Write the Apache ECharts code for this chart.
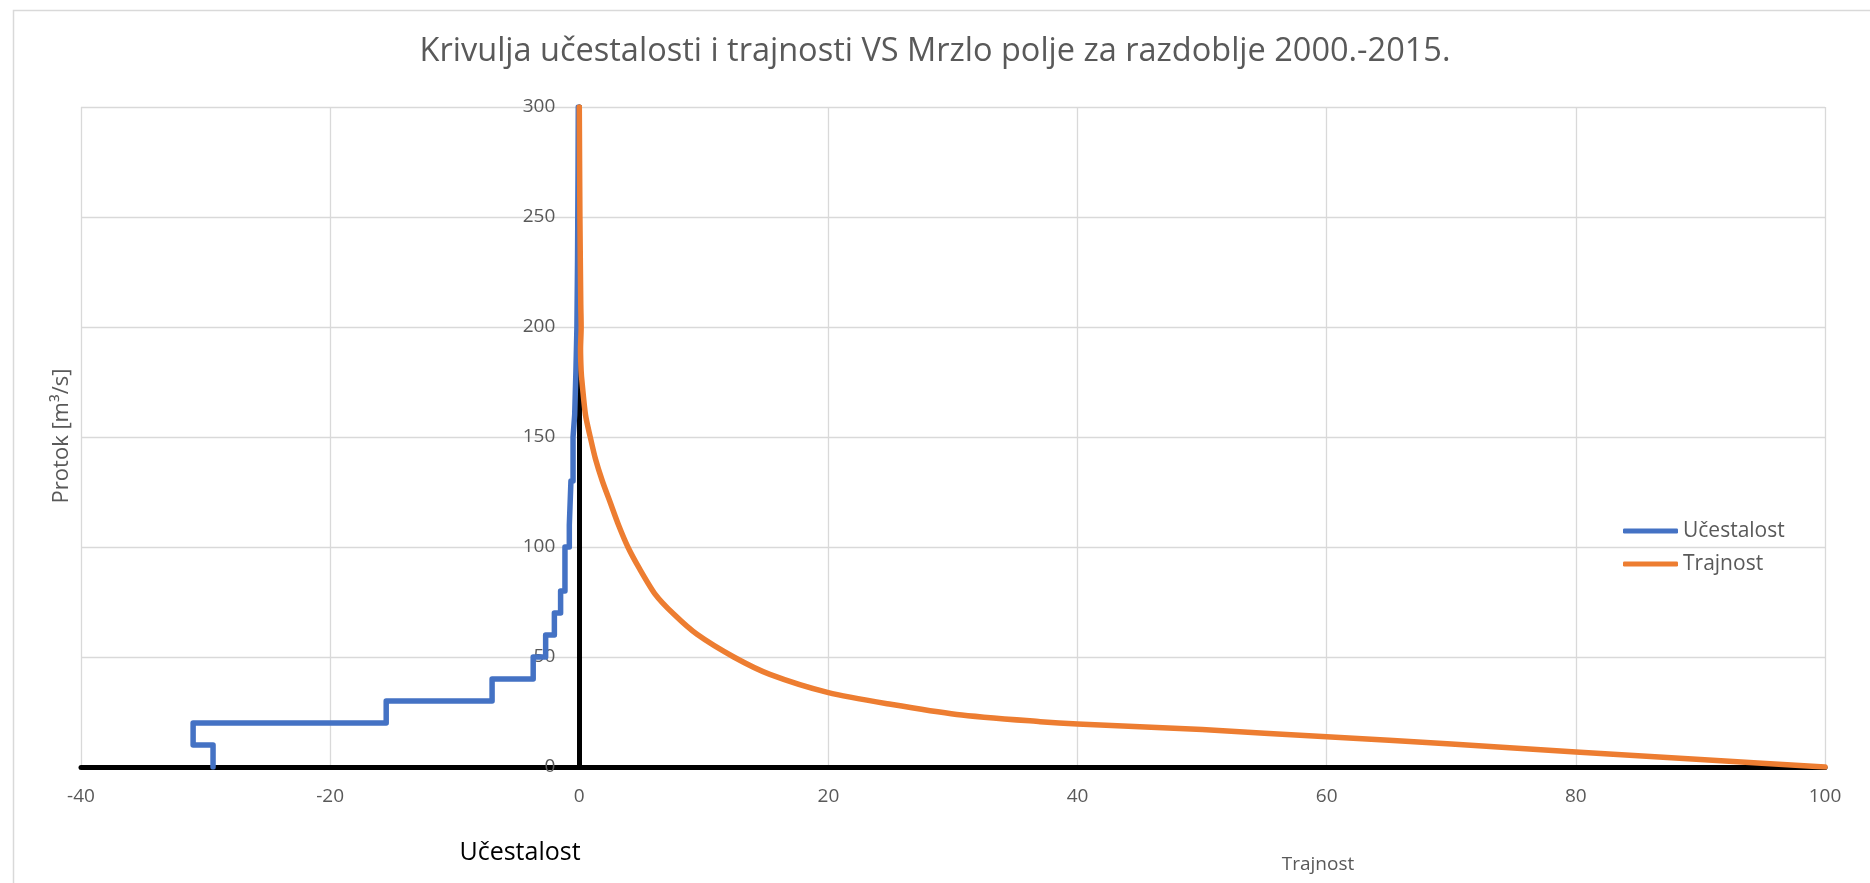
<!DOCTYPE html>
<html>
<head>
<meta charset="utf-8">
<script src="https://cdn.jsdelivr.net/npm/echarts@6/dist/echarts.min.js"></script>
<style>
html,body{margin:0;padding:0;background:#fff;}
#chart{width:1870px;height:883px;}
</style>
</head>
<body>
<div id="chart"></div>
<script>
// ---- DATA ----
const titleText = 'Krivulja učestalosti i trajnosti VS Mrzlo polje za razdoblje 2000.-2015.';
const seriesNames = ['Učestalost', 'Trajnost'];
const yAxisTitle = 'Protok [m³/s]';
const xTicks = { min: -40, max: 100, interval: 20 };
const yTicks = { min: 0, max: 300, interval: 50 };

// Učestalost (frequency) – step curve: x = frequency (negative side), y = discharge class lower bound
const ucestalostQ = [0, 10, 20, 30, 40, 50, 60, 70, 80, 100, 110, 130, 150, 160, 180, 200, 230, 270, 300];
const ucestalostF = [-29.4, -31.0, -15.5, -7.0, -3.7, -2.7, -2.0, -1.5, -1.15, -0.8, -0.67, -0.5, -0.37, -0.27, -0.19, -0.14, -0.1, -0.08, -0.08];

// Trajnost (duration) – x = % of time, y = discharge
const trajnostP = [0, 0.05, 0.12, 0.15, 0.1, 0.15, 0.22, 0.5, 0.88, 1.3, 1.85, 2.5, 3.15, 3.9, 4.8, 6.1, 7.6, 9.45, 12.4, 15.3, 20, 25, 30.3, 37, 40, 50, 60, 70, 80, 90, 100];
const trajnostQ = [300, 250, 210, 200, 190, 180, 175, 160, 150, 140, 130, 120, 110, 100, 90.5, 78.5, 69.4, 60.3, 50, 42.1, 33.8, 28.5, 23.9, 20.6, 19.5, 17, 13.7, 10.5, 6.8, 3.4, 0];

// ---- CHART ----
const FONT = 'Open Sans';
const GRAY = '#595959';
const chart = echarts.init(document.getElementById('chart'), null, { renderer: 'canvas' });

const ucData = ucestalostF.map((f, i) => [f, ucestalostQ[i]]);
const trData = trajnostP.map((p, i) => [p, trajnostQ[i]]);

const gridLeft = 81, gridRight = 45;
const plotW = 1870 - gridLeft - gridRight;
const zeroOffset = -plotW * (0 - xTicks.min) / (xTicks.max - xTicks.min);

chart.setOption({
  backgroundColor: '#ffffff',
  animation: false,
  textStyle: { fontFamily: FONT },
  title: [
    { text: titleText, left: 'center', top: 30,
      textStyle: { fontFamily: FONT, fontSize: 32.5, fontWeight: 'normal', color: GRAY } },
    { text: seriesNames[0], left: 515, top: 835, textAlign: 'center',
      textStyle: { fontFamily: FONT, fontSize: 25, fontWeight: 'normal', color: '#000000' } },
    { text: seriesNames[1], left: 1313, top: 850, textAlign: 'center',
      textStyle: { fontFamily: FONT, fontSize: 19, fontWeight: 'normal', color: GRAY } }
  ],
  legend: {
    orient: 'vertical',
    left: 1618,
    top: 514,
    icon: 'roundRect',
    itemWidth: 55,
    itemHeight: 5,
    itemGap: 9,
    textStyle: { fontFamily: FONT, fontSize: 21, color: GRAY, lineHeight: 24 },
    data: seriesNames
  },
  grid: { left: gridLeft, right: gridRight, top: 107, bottom: 116, containLabel: false },
  xAxis: {
    type: 'value',
    min: xTicks.min, max: xTicks.max, interval: xTicks.interval,
    axisLine: { show: true, onZero: true, lineStyle: { color: '#000', width: 5 } },
    axisTick: { show: false },
    axisLabel: { color: GRAY, fontSize: 19, fontFamily: FONT, margin: 20 },
    splitLine: { show: true, lineStyle: { color: '#d9d9d9', width: 1.3 } }
  },
  yAxis: {
    type: 'value',
    position: 'left',
    offset: zeroOffset,
    min: yTicks.min, max: yTicks.max, interval: yTicks.interval,
    axisLine: { show: true, onZero: false, lineStyle: { color: '#000', width: 5 } },
    axisTick: { show: false },
    axisLabel: { color: GRAY, fontSize: 19, fontFamily: FONT, margin: 24 },
    splitLine: { show: true, lineStyle: { color: '#d9d9d9', width: 1.3 } }
  },
  graphic: [
    { type: 'rect', left: 11, top: 8, z: -10, silent: true,
      shape: { x: 0, y: 0, width: 1900, height: 900 },
      style: { fill: 'none', stroke: '#d9d9d9', lineWidth: 1.5 } },
    { type: 'text', x: 62, y: 436, rotation: Math.PI / 2, silent: true,
      style: { text: yAxisTitle, fontFamily: FONT, fontSize: 22, fill: GRAY,
               align: 'center', verticalAlign: 'middle' } }
  ],
  series: [
    {
      name: seriesNames[0], type: 'line', step: 'start', data: ucData,
      showSymbol: false, symbol: 'none', color: '#4472C4',
      lineStyle: { width: 5.5, color: '#4472C4', cap: 'round', join: 'round' },
      z: 3
    },
    {
      name: seriesNames[1], type: 'line', data: trData, smooth: 0.25,
      showSymbol: false, symbol: 'none', color: '#ED7D31',
      lineStyle: { width: 5.5, color: '#ED7D31', cap: 'round', join: 'round' },
      z: 4
    }
  ]
});
</script>
</body>
</html>
